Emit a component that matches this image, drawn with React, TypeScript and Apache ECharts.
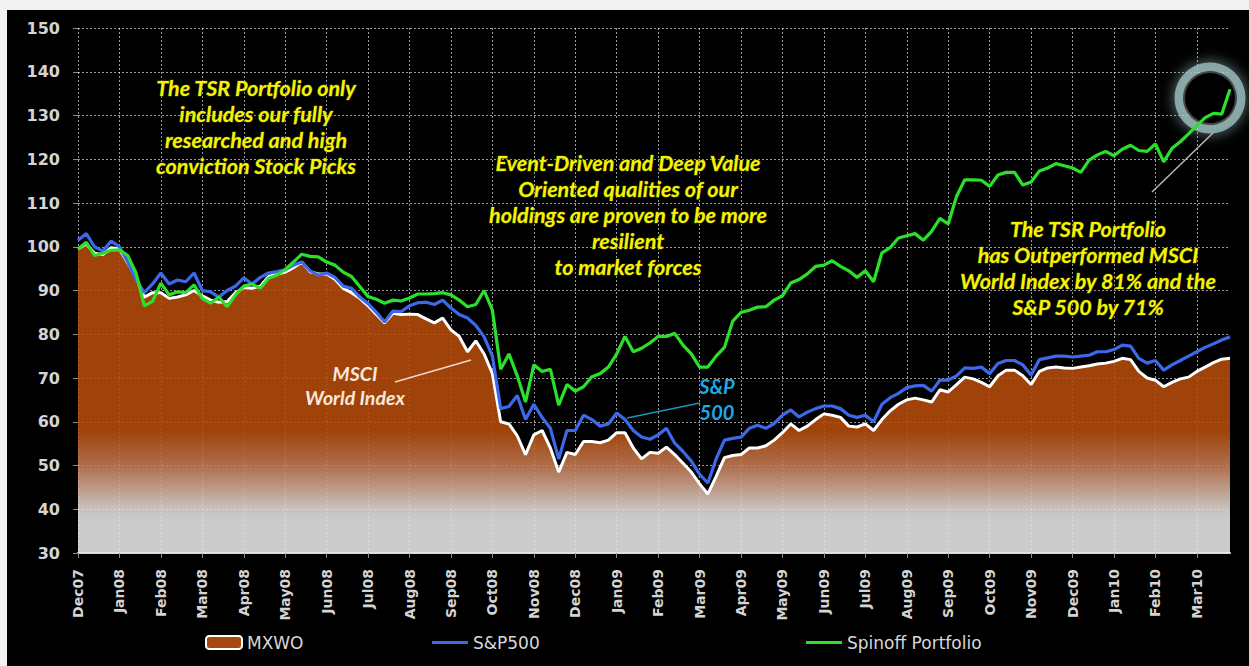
import React, { useEffect, useRef } from "react";
import * as echarts from "echarts";

const months = [
  "Dec07", "Jan08", "Feb08", "Mar08", "Apr08", "May08", "Jun08", "Jul08", "Aug08", "Sep08",
  "Oct08", "Nov08", "Dec08", "Jan09", "Feb09", "Mar09", "Apr09", "May09", "Jun09", "Jul09",
  "Aug09", "Sep09", "Oct09", "Nov09", "Dec09", "Jan10", "Feb10", "Mar10",
];
const pointsPerMonth = 5;

// MXWO (MSCI World Index), 5 readings per month
const mxwo = [
  99.5, 100.7, 98.5, 98.2, 99.8,
  99.5, 96.3, 93, 88.5, 89.5,
  89.5, 88.2, 88.5, 89, 90,
  88.8, 87.8, 87.3, 87.5, 89.5,
  90.7, 90.5, 91, 93.2, 93.7,
  94.2, 95.2, 96.5, 94.3, 93.8,
  93.8, 92.6, 90.5, 89.5, 88.2,
  86.5, 84.5, 82.6, 84.8, 84.5,
  84.6, 84.5, 83.5, 82.6, 83.7,
  81, 79.5, 76, 78.5, 75.5,
  71, 60, 59.5, 56.8, 52.5,
  57, 58, 54, 48.5, 53,
  52.5, 55.5, 55.5, 55.2, 55.8,
  57.5, 57.5, 54, 51.5, 53,
  52.8, 54.2, 52.5, 50.5, 48.5,
  45.8, 43.5, 47.5, 51.8, 52.3,
  52.5, 54, 54, 54.5, 55.8,
  57.5, 59.5, 58, 59, 60.5,
  61.8, 61.5, 61, 59, 58.8,
  59.5, 58, 60.5, 62.5, 64,
  65, 65.4, 65, 64.5, 67.3,
  66.8, 68.5, 70.2, 69.8, 69,
  68, 70.5, 71.8, 71.8, 70.5,
  68.5, 71.5, 72.3, 72.5, 72.3,
  72.2, 72.5, 72.8, 73.2, 73.4,
  73.8, 74.5, 74.2, 71.5, 70,
  69.5, 68, 69, 69.8, 70.2,
  71.5, 72.5, 73.5, 74.3, 74.5,
];

const sp500 = [
  101.5, 103, 100, 99, 101.3,
  100, 96.5, 92.5, 89.5, 91.5,
  94, 91.5, 92.4, 92, 94,
  90, 89.7, 88.5, 90, 91,
  92.9, 91.5, 93, 94, 94.3,
  94.7, 95.8, 96.5, 94.5, 93.5,
  94, 93, 91, 90.5, 88.5,
  87, 85, 82.8, 85.3, 85.2,
  86.5, 87.2, 87.3, 86.8, 87.8,
  86, 84.5, 83.7, 82, 79.4,
  75, 63, 63.5, 66, 60.5,
  64, 61, 58.5, 51.5, 58,
  58, 61.5, 60.5, 59, 59.5,
  62, 60.5, 58, 56.5, 56,
  57, 58.5, 55.1, 53.2, 51,
  48, 46, 51.5, 55.8, 56.2,
  56.5, 58.5, 59.2, 58.5, 59.6,
  61.5, 62.7, 61.1, 62.2, 63,
  63.6, 63.6, 63, 61.5, 61,
  61.5, 60, 64, 65.5, 66.5,
  67.8, 68.2, 68.3, 67, 69.5,
  69.5, 70.5, 72.3, 72.2, 72.5,
  71, 73.3, 74, 74, 73,
  70.7, 74.2, 74.6, 75, 75,
  74.8, 75, 75.2, 76, 76,
  76.5, 77.5, 77.3, 74.5, 73.4,
  74, 71.8, 73, 74, 75,
  76, 77, 77.8, 78.7, 79.4,
];

const spinoff = [
  99.5, 101, 98, 98.5, 99.2,
  99.3, 98, 94, 86.5, 87.5,
  91.7, 89, 89.7, 89.5, 91.3,
  88.2, 87.1, 88.5, 86.3, 89,
  91, 91.5, 90.5, 92.8, 93.5,
  94.8, 96.5, 98.3, 97.8, 97.7,
  96.5, 95.8, 94.2, 93.2, 90.9,
  88.6, 88, 87.1, 87.8, 87.6,
  88.3, 89.2, 89.2, 89.3, 89.5,
  89, 87.8, 86.3, 86.8, 90,
  85.5, 72, 75.5, 70.5, 64.5,
  73, 71.5, 72, 63.8, 68.5,
  67, 68, 70.3, 71, 72.5,
  75.5, 79.5, 76, 76.8, 78,
  79.5, 79.5, 80.2, 77.5, 75.5,
  72.5, 72.5, 75, 77, 83,
  85, 85.5, 86.2, 86.3, 87.8,
  88.8, 91.7, 92.5, 93.8, 95.5,
  95.8, 96.8, 95.5, 94.5, 93,
  94.5, 92, 98.6, 99.8, 102,
  102.5, 103, 101.5, 103.5, 106.5,
  105.2, 111.5, 115.3, 115.3, 115.2,
  113.8, 116.4, 117, 117, 114.1,
  114.8, 117.3, 118, 119, 118.5,
  118, 117, 119.8, 121, 121.8,
  120.8, 122.3, 123.2, 122, 121.8,
  123.5, 119.4, 122.5, 124, 125.8,
  127.7, 129.5, 130.5, 130.3, 136,
];

const yMin = 30;
const yMax = 150;
const yStep = 10;

const categories = months.flatMap((m) =>
  Array.from({ length: pointsPerMonth }, (_, w) => `${m}|${w + 1}`)
);

const annotationTSR = "The TSR Portfolio only\nincludes our fully\nresearched and high\nconviction Stock Picks";
const annotationEvent =
  "Event-Driven and Deep Value\nOriented qualities of our\nholdings are proven to be more\nresilient\nto market forces";
const annotationOut =
  "The TSR Portfolio\nhas Outperformed MSCI\nWorld Index by 81% and the\nS&P 500 by 71%";
const annotationMSCI = "MSCI\nWorld Index";
const annotationSP = "S&P\n500";

const App: React.FC = () => {
  const ref = useRef<HTMLDivElement | null>(null);

  useEffect(() => {
    if (!ref.current) return;
    const chart = echarts.init(ref.current, undefined, { renderer: "svg" });

    const gridLeft = 71;
    const gridTop = 18;
    const gridW = 1152;
    const gridH = 525;

    const labelColor = "#d4d4d4";
    const gridLine = { color: "rgba(255,255,255,0.6)", type: [2, 2] as any, width: 1 };

    const areaGradient = new echarts.graphic.LinearGradient(
      0, gridTop, 0, gridTop + gridH,
      [
        { offset: 0, color: "#b54c0b" },
        { offset: 0.767, color: "#b54c0b" },
        { offset: 0.833, color: "#c77d55" },
        { offset: 0.912, color: "#e3d8d2" },
        { offset: 0.937, color: "#e8e8e8" },
        { offset: 1, color: "#e8e8e8" },
      ],
      true
    );

    const yellowText = (x: number, y: number, text: string) => ({
      type: "text",
      x,
      y,
      z: 20,
      style: {
        text,
        fill: "#f4f400",
        fontFamily: "Lato",
        fontStyle: "italic",
        fontWeight: "bold",
        fontSize: 21.5,
        align: "center",
        verticalAlign: "middle",
        lineHeight: 26,
        stroke: "rgba(80,80,0,0.85)",
        lineWidth: 1,
      },
    });

    const legendBase = {
      selectedMode: false,
      top: 624,
      padding: 0,
      itemWidth: 36,
      textStyle: { color: "#d8d8d8", fontSize: 17, fontFamily: "DejaVu Sans" },
    };

    chart.setOption({
      animation: false,
      backgroundColor: "#000000",
      grid: { left: gridLeft, top: gridTop, width: gridW, height: gridH },
      xAxis: {
        type: "category",
        boundaryGap: false,
        data: categories,
        axisLine: { show: true, lineStyle: { color: "#d8d8d8", width: 2 } },
        axisTick: { show: true, interval: pointsPerMonth - 1, length: 5, lineStyle: { color: "#8a8a8a" } },
        axisLabel: {
          interval: pointsPerMonth - 1,
          rotate: 90,
          margin: 16,
          color: labelColor,
          fontFamily: "DejaVu Sans",
          fontWeight: "bold",
          fontSize: 14,
          formatter: (v: string) => v.split("|")[0],
        },
        splitLine: { show: true, interval: pointsPerMonth - 1, lineStyle: gridLine },
      },
      yAxis: {
        type: "value",
        min: yMin,
        max: yMax,
        interval: yStep,
        axisLine: { show: false },
        axisTick: { show: true, length: 5, lineStyle: { color: "#8a8a8a" } },
        axisLabel: {
          margin: 18,
          color: labelColor,
          fontFamily: "DejaVu Sans",
          fontWeight: "bold",
          fontSize: 16,
        },
        splitLine: { show: true, lineStyle: gridLine },
      },
      legend: [
        {
          ...legendBase,
          left: 198,
          itemHeight: 13,
          data: [
            {
              name: "MXWO",
              icon: "roundRect",
              itemStyle: { color: "#a8470f", borderColor: "#ffffff", borderWidth: 2 },
            },
          ],
        },
        {
          ...legendBase,
          left: 425,
          itemHeight: 3,
          data: [{ name: "S&P500", icon: "rect", itemStyle: { color: "#3c68ea", borderWidth: 0 } }],
        },
        {
          ...legendBase,
          left: 799,
          itemHeight: 3,
          data: [{ name: "Spinoff Portfolio", icon: "rect", itemStyle: { color: "#2be02b", borderWidth: 0 } }],
        },
      ],
      series: [
        {
          name: "MXWO",
          type: "line",
          data: mxwo,
          symbol: "none",
          z: 2,
          itemStyle: { color: "#a8470f" },
          lineStyle: { color: "#ffffff", width: 3 },
          areaStyle: { origin: "start", opacity: 0.88, color: areaGradient },
        },
        {
          name: "S&P500",
          type: "line",
          data: sp500,
          symbol: "none",
          z: 3,
          itemStyle: { color: "#3c68ea" },
          lineStyle: { color: "#3c68ea", width: 3.2 },
        },
        {
          name: "Spinoff Portfolio",
          type: "line",
          data: spinoff,
          symbol: "none",
          z: 4,
          itemStyle: { color: "#2be02b" },
          lineStyle: { color: "#2be02b", width: 3.2 },
        },
      ],
      graphic: {
        elements: [
          {
            type: "circle",
            z: 1,
            shape: { cx: 1203, cy: 88, r: 31 },
            style: {
              fill: "none",
              stroke: "rgba(165,200,200,0.75)",
              lineWidth: 9,
              shadowBlur: 14,
              shadowColor: "rgba(170,210,210,0.9)",
            },
          },
          {
            type: "circle",
            z: 1,
            shape: { cx: 1203, cy: 88, r: 26 },
            style: { fill: "#000000", stroke: "#454545", lineWidth: 2 },
          },
          {
            type: "line",
            z: 20,
            shape: { x1: 1145, y1: 182, x2: 1206, y2: 123 },
            style: { stroke: "#b8b8b8", lineWidth: 1.5 },
          },
          {
            type: "line",
            z: 20,
            shape: { x1: 388, y1: 372, x2: 464, y2: 350 },
            style: { stroke: "#f0d8c8", lineWidth: 1.5 },
          },
          {
            type: "line",
            z: 20,
            shape: { x1: 620, y1: 408, x2: 693, y2: 393 },
            style: { stroke: "#1a95b8", lineWidth: 1.5 },
          },
          yellowText(249, 117, annotationTSR),
          yellowText(621, 205, annotationEvent),
          yellowText(1081, 258, annotationOut),
          {
            type: "text",
            x: 348,
            y: 375,
            z: 20,
            style: {
              text: annotationMSCI,
              fill: "#f8e8dc",
              fontFamily: "Lato",
              fontStyle: "italic",
              fontWeight: "bold",
              fontSize: 19.5,
              align: "center",
              verticalAlign: "middle",
              lineHeight: 24,
            },
          },
          {
            type: "text",
            x: 710,
            y: 389,
            z: 20,
            style: {
              text: annotationSP,
              fill: "#1fa8e2",
              fontFamily: "Lato",
              fontStyle: "italic",
              fontWeight: "bold",
              fontSize: 20,
              align: "center",
              verticalAlign: "middle",
              lineHeight: 26,
            },
          },
        ],
      },
    });

    return () => {
      chart.dispose();
    };
  }, []);

  return (
    <div
      style={{
        position: "fixed",
        left: 0,
        top: 0,
        width: 1249,
        height: 666,
        background: "#f2f2f2",
        overflow: "hidden",
      }}
    >
      <div
        ref={ref}
        style={{ position: "absolute", left: 7, top: 10, width: 1242, height: 656, background: "#000" }}
      />
    </div>
  );
};

export default App;
